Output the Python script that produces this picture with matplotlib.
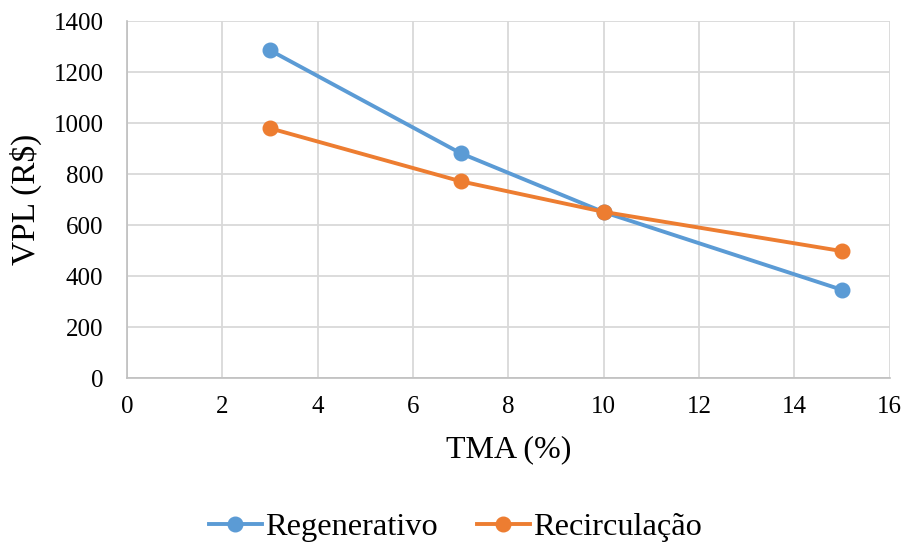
import matplotlib
matplotlib.use("Agg")
import matplotlib.pyplot as plt

tma = [3, 7, 10, 15]
regenerativo = [1286, 882, 651, 346]
recirculacao = [980, 772, 652, 498]
x_ticks = [0, 2, 4, 6, 8, 10, 12, 14, 16]
y_ticks = [0, 200, 400, 600, 800, 1000, 1200, 1400]

plt.rcParams['font.family'] = ['Liberation Serif', 'DejaVu Serif']

fig = plt.figure(figsize=(9.07, 5.44), dpi=100)
ax = fig.add_axes([0.14, 0.305, 0.841, 0.656])

ax.plot(tma, regenerativo, color='#5b9bd5', lw=2.8, marker='o', ms=10.5,
        label='Regenerativo', zorder=3)
ax.plot(tma, recirculacao, color='#ed7d31', lw=2.8, marker='o', ms=10.5,
        label='Recirculação', zorder=3)

ax.set_xlim(0, 16)
ax.set_ylim(0, 1400)
ax.set_xticks(x_ticks)
ax.set_yticks(y_ticks)
ax.grid(True, color='#d9d9d9', lw=1.3)
ax.set_axisbelow(True)
for s in ['top', 'right']:
    ax.spines[s].set_visible(False)
for s in ['left', 'bottom']:
    ax.spines[s].set_color('#bfbfbf')
    ax.spines[s].set_linewidth(1.2)
ax.tick_params(length=0, labelsize=18)
ax.tick_params(axis='y', pad=17)
ax.tick_params(axis='x', pad=13)

ax.set_xlabel('TMA (%)', fontsize=23, labelpad=12)
ax.set_ylabel('VPL (R$)', fontsize=24, labelpad=8)

fig.legend(loc='lower center', bbox_to_anchor=(0.502, -0.05), ncol=2,
           frameon=False, fontsize=23.3, handlelength=1.64, handletextpad=0.1,
           columnspacing=1.2)

fig.savefig('out.png', dpi=100)
